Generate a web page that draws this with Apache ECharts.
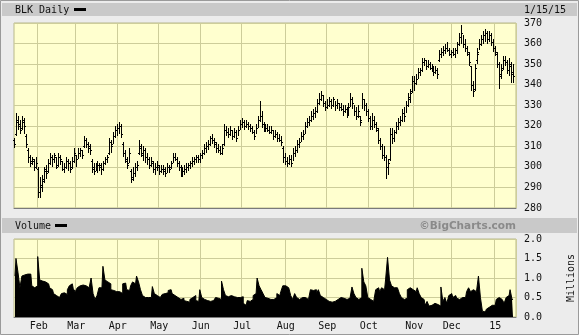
<!DOCTYPE html>
<html><head><meta charset="utf-8">
<script src="https://cdn.jsdelivr.net/npm/echarts@6/dist/echarts.min.js"></script>
<style>html,body{margin:0;padding:0;background:#ececec}#c{width:579px;height:335px}</style>
</head><body><div id="c"></div>
<script>
const title = 'BLK Daily';
const dateLabel = '1/15/15';
const volTitle = 'Volume';
const credit = '\u00a9BigCharts.com';
const volUnit = 'Millions';
const firstDay = [2014, 0, 15];
const lastDay = [2015, 0, 15];
const holidays = ['2014-01-20','2014-02-17','2014-04-18','2014-05-26','2014-07-04','2014-09-01','2014-11-27','2014-12-25','2015-01-01'];
const monthNames = ['Jan','Feb','Mar','Apr','May','Jun','Jul','Aug','Sep','Oct','Nov','Dec'];
const priceMin = 280, priceMax = 370, priceStep = 10;
const volMin = 0, volMax = 2, volStep = 0.5;

const lowP = [
309,315,318,316,318,316,309,302,300,301,
298,299,285,285,288,292,294,297,301,300,
302,299,300,301,298,297,299,298,297,299,
302,300,304,305,304,309,309,307,306,297,
296,298,297,298,296,298,301,302,306,307,
311,314,315,316,314,305,302,299,302,292,
293,295,298,306,305,303,302,301,299,300,
297,296,298,296,297,296,295,297,297,299,
302,303,300,298,295,295,296,297,298,299,
300,301,302,302,302,304,306,307,308,310,
311,309,307,307,306,306,310,315,314,315,
313,314,312,315,318,319,318,319,318,317,
316,313,316,319,322,319,317,317,317,316,
316,313,314,312,312,310,302,301,300,301,
300,303,305,307,309,312,313,316,319,320,
322,323,324,326,330,332,329,327,328,329,
328,329,327,328,327,327,325,326,324,325,
329,328,325,323,324,320,328,327,325,322,
318,318,319,317,311,308,304,303,294,296,
303,311,312,316,318,320,322,322,326,329,
331,336,337,340,343,344,346,349,347,348,
347,346,344,345,343,351,353,354,355,356,
354,353,354,353,355,359,360,358,356,354,
349,337,334,337,350,357,359,360,361,360,
361,359,356,354,348,338,343,347,349,345,
344,341,341];
const highP = [
314,326,325,323,325,324,316,309,306,305,
304,305,300,295,296,300,301,304,307,306,
307,305,307,306,303,302,305,304,303,305,
309,306,309,309,308,315,314,312,311,304,
302,302,303,302,302,303,305,306,314,313,
317,320,321,322,321,312,308,305,309,299,
300,302,303,313,311,310,309,307,305,305,
303,302,303,301,301,301,300,302,301,303,
307,307,305,303,301,300,301,302,302,303,
305,305,306,306,307,308,311,312,313,315,
316,314,312,311,310,311,321,320,319,320,
318,319,318,320,323,324,323,323,322,321,
320,318,321,325,332,327,322,321,321,320,
320,318,318,317,316,315,310,307,305,306,
306,309,310,313,314,317,318,322,324,325,
327,328,329,333,336,337,335,332,333,334,
333,334,332,333,331,331,330,330,329,331,
336,334,330,329,330,325,336,333,331,328,
325,326,325,322,319,314,311,310,306,304,
319,319,318,322,324,325,328,329,332,336,
338,344,344,345,348,348,353,353,352,352,
351,350,349,349,348,357,358,359,360,361,
358,357,358,358,361,365,369,364,362,359,
356,349,342,350,358,362,364,366,367,366,
366,365,362,359,356,351,350,354,354,352,
353,351,350];
const openP = [
313,316,323,321,319,323,315,308,305,302,
303,300,299,288,291,294,299,298,302,305,
304,305,301,305,303,299,300,303,302,300,
303,306,304,307,308,310,313,311,309,303,
300,298,300,301,301,299,302,304,307,312,
311,315,318,319,320,311,307,304,302,298,
295,297,300,307,310,306,308,305,304,301,
302,299,300,300,298,299,299,297,300,300,
302,305,304,302,300,297,298,299,300,301,
302,303,304,305,304,306,307,309,310,311,
314,313,311,309,308,307,311,318,317,316,
318,315,317,314,318,321,322,320,321,320,
319,317,315,319,323,325,321,318,319,318,
317,318,315,316,314,313,309,305,303,302,
304,302,307,308,311,312,315,316,320,322,
323,325,326,327,331,333,335,331,329,330,
332,330,333,330,331,329,328,327,328,326,
329,333,331,327,325,325,323,333,330,327,
324,320,323,321,318,313,310,306,305,300,
304,316,314,317,320,322,323,326,325,330,
333,337,342,341,343,346,347,351,352,349,
350,348,347,346,347,352,355,356,357,358,
357,355,356,355,357,360,363,365,360,358,
355,349,340,338,352,356,360,362,364,365,
362,364,361,358,355,350,345,348,352,351,
347,350,346];
const closeP = [
311,322,320,318,322,320,311,305,303,304,
300,302,288,290,293,298,297,302,305,304,
306,300,305,304,299,300,303,302,299,303,
307,304,307,308,306,313,311,310,308,299,
298,300,301,300,299,302,304,305,312,310,
315,318,319,320,316,307,303,301,307,294,
297,300,301,309,307,308,305,304,301,303,
299,300,301,298,299,298,297,300,299,302,
305,304,302,300,297,298,299,300,301,302,
303,304,305,304,306,307,309,310,311,314,
313,312,309,308,307,309,318,317,316,318,
315,317,314,318,321,322,320,321,320,319,
317,315,319,323,325,321,318,319,318,317,
318,315,316,314,313,312,305,303,302,304,
302,307,308,311,312,315,316,320,322,323,
325,326,327,331,333,335,331,329,330,332,
330,333,330,331,329,328,327,328,326,329,
333,331,327,325,327,322,333,330,327,324,
320,323,321,319,313,310,306,305,300,302,
316,314,317,320,322,323,326,325,330,334,
336,342,341,343,346,347,351,352,349,350,
348,347,346,347,345,355,356,357,358,357,
355,356,355,357,360,363,365,360,358,356,
351,340,337,348,355,360,362,364,365,362,
364,361,358,356,350,344,347,352,351,347,
349,345,344];
const volume = [
1.05,1.5,1.15,0.75,1.05,1.08,1.1,1.08,1.1,0.8,
0.75,0.8,1.55,0.95,0.92,0.9,0.92,0.85,0.75,0.7,
0.6,0.55,0.5,0.55,0.6,0.62,0.58,0.7,0.8,0.85,
0.72,0.65,0.75,0.8,0.82,0.78,0.8,0.75,0.75,1.0,
0.6,0.45,0.55,0.75,0.75,1.3,0.95,0.9,0.85,0.7,
0.68,0.65,0.7,0.65,0.6,0.85,0.87,0.7,0.68,0.8,
0.9,0.85,1.05,0.9,0.7,0.55,0.5,0.5,0.48,0.5,
0.78,0.6,0.55,0.5,0.55,0.58,0.6,0.62,0.68,0.7,
0.6,0.55,0.5,0.55,0.45,0.48,0.42,0.4,0.38,0.45,
0.5,0.55,0.42,0.4,0.7,0.5,0.45,0.42,0.42,0.4,
0.42,0.45,0.5,0.48,0.45,0.92,0.7,0.55,0.52,0.55,
0.5,0.52,0.5,0.55,0.5,0.52,0.35,0.3,0.42,0.4,
0.45,0.55,0.6,1.0,0.8,0.7,0.6,0.5,0.48,0.45,
0.48,0.45,0.5,0.6,0.55,0.65,0.8,0.8,0.75,0.7,
0.55,0.45,0.6,0.5,0.45,0.5,0.48,0.5,0.45,0.5,
0.7,0.68,0.7,0.6,0.7,0.55,0.5,0.45,0.42,0.4,
0.38,0.35,0.4,0.45,0.5,0.5,0.48,0.5,0.45,0.48,
0.45,0.77,0.6,0.5,0.45,0.5,1.25,0.9,0.8,0.5,
0.45,0.4,0.45,0.7,0.75,0.65,0.75,0.7,0.95,1.53,
0.95,0.8,0.75,0.75,0.7,0.6,0.5,0.45,0.48,0.7,
0.75,0.7,0.72,0.65,0.75,0.6,0.5,0.45,0.3,0.4,
0.28,0.3,0.35,0.3,0.32,0.28,0.77,0.4,0.5,0.35,
0.55,0.6,0.5,0.55,0.48,0.45,0.5,0.45,0.5,0.65,
0.75,0.65,0.7,0.65,0.6,1.05,0.5,0.15,0.13,0.2,
0.25,0.3,0.35,0.3,0.45,0.5,0.45,0.5,0.35,0.5,
0.55,0.7,0.45];

// trading-day calendar
const dates = [];
for (let d = new Date(Date.UTC(...firstDay)); d.getTime() <= Date.UTC(...lastDay); d.setUTCDate(d.getUTCDate() + 1)) {
  const wd = d.getUTCDay();
  const s = d.toISOString().slice(0, 10);
  if (wd > 0 && wd < 6 && holidays.indexOf(s) < 0) dates.push(s);
}
const cats = dates.concat(['']);
const isMonthStart = cats.map((s, i) => i > 0 && s && s.slice(5, 7) !== cats[i - 1].slice(5, 7));
const monthLabel = s => s.slice(5, 7) === '01' ? s.slice(2, 4) : monthNames[+s.slice(5, 7) - 1];

const MONO = '"DejaVu Sans Mono", monospace';
const gridCol = '#cdcd9a';
const plotBg = '#ffffcf';

const chart = echarts.init(document.getElementById('c'), null, {renderer: 'canvas'});
const ohlc = dates.map((d, i) => [i, openP[i], highP[i], lowP[i], closeP[i]]);
const volData = dates.map((d, i) => [i, volume[i]]);

chart.setOption({
  animation: false,
  backgroundColor: '#ececec',
  grid: [
    {left: 14, top: 23, width: 502, height: 185, show: true, backgroundColor: plotBg, borderColor: '#b9b98a', borderWidth: 1},
    {left: 14, top: 239, width: 502, height: 78, show: true, backgroundColor: plotBg, borderColor: '#b9b98a', borderWidth: 1}
  ],
  xAxis: [
    {type: 'category', gridIndex: 0, data: cats, boundaryGap: true,
     axisLine: {show: true, lineStyle: {color: '#7a7a7a', width: 1}},
     axisTick: {show: false}, axisLabel: {show: false},
     splitLine: {show: true, interval: (i) => isMonthStart[i], lineStyle: {color: gridCol, width: 1}}},
    {type: 'category', gridIndex: 1, data: cats, boundaryGap: true,
     axisLine: {show: true, lineStyle: {color: '#7a7a7a', width: 1}},
     axisTick: {show: false},
     axisLabel: {show: true, interval: (i) => isMonthStart[i], formatter: v => v ? monthLabel(v) : '',
                 fontFamily: MONO, fontSize: 10, color: '#111', margin: 4},
     splitLine: {show: true, interval: (i) => isMonthStart[i], lineStyle: {color: gridCol, width: 1}}}
  ],
  yAxis: [
    {type: 'value', gridIndex: 0, position: 'right', min: priceMin, max: priceMax, interval: priceStep,
     axisLine: {show: false}, axisTick: {show: false},
     axisLabel: {fontFamily: MONO, fontSize: 10, color: '#111', margin: 8},
     splitLine: {show: true, lineStyle: {color: gridCol, width: 1}}},
    {type: 'value', gridIndex: 1, position: 'right', min: volMin, max: volMax, interval: volStep,
     axisLine: {show: false}, axisTick: {show: false},
     axisLabel: {fontFamily: MONO, fontSize: 10, color: '#111', margin: 8, formatter: v => v.toFixed(1)},
     splitLine: {show: true, lineStyle: {color: gridCol, width: 1}}}
  ],
  series: [
    {type: 'line', xAxisIndex: 1, yAxisIndex: 1, data: volData, step: 'middle', symbol: 'none',
     lineStyle: {color: '#000', width: 1}, areaStyle: {color: '#000', opacity: 1}, z: 3},
    {type: 'custom', xAxisIndex: 0, yAxisIndex: 0, data: ohlc, encode: {x: 0, y: [1, 2, 3, 4]}, z: 4,
     renderItem: function (params, api) {
       const i = api.value(0);
       const pO = api.coord([i, api.value(1)]);
       const pH = api.coord([i, api.value(2)]);
       const pL = api.coord([i, api.value(3)]);
       const pC = api.coord([i, api.value(4)]);
       const x = Math.floor(pH[0]);
       const yH = Math.round(pH[1]), yL = Math.round(pL[1]);
       return {type: 'group', children: [
         {type: 'rect', shape: {x: x, y: yH, width: 1, height: Math.max(1, yL - yH)}, style: {fill: '#000'}},
         {type: 'rect', shape: {x: x - 1, y: Math.round(pO[1]), width: 1, height: 1}, style: {fill: '#000'}},
         {type: 'rect', shape: {x: x + 1, y: Math.round(pC[1]), width: 1, height: 1}, style: {fill: '#000'}}
       ]};
     }}
  ],
  graphic: [
    {type: 'rect', shape: {x: 0.5, y: 0.5, width: 578, height: 334}, style: {fill: 'none', stroke: '#9a9a9a', lineWidth: 1}, z: 10},
    {type: 'rect', shape: {x: 2, y: 3, width: 575, height: 13}, style: {fill: '#c9c9c9'}, z: 1},
    {type: 'text', x: 15, y: 10, style: {text: title, font: '10px ' + MONO, fill: '#111', textVerticalAlign: 'middle'}, z: 11},
    {type: 'rect', shape: {x: 74, y: 8, width: 12, height: 3}, style: {fill: '#000'}, z: 11},
    {type: 'text', x: 524, y: 10, style: {text: dateLabel, font: '10px ' + MONO, fill: '#111', textVerticalAlign: 'middle'}, z: 11},
    {type: 'rect', shape: {x: 2, y: 218, width: 575, height: 15}, style: {fill: '#c9c9c9'}, z: 1},
    {type: 'text', x: 15, y: 226, style: {text: volTitle, font: '10px ' + MONO, fill: '#111', textVerticalAlign: 'middle'}, z: 11},
    {type: 'rect', shape: {x: 55, y: 224, width: 12, height: 3}, style: {fill: '#000'}, z: 11},
    {type: 'text', x: 516, y: 226, style: {text: credit, font: 'bold 10.5px "DejaVu Sans", sans-serif', fill: '#8a8a8a', textAlign: 'right', textVerticalAlign: 'middle'}, z: 11},
    {type: 'text', x: 571, y: 278, rotation: Math.PI / 2, style: {text: volUnit, font: '10px ' + MONO, fill: '#111', textAlign: 'center', textVerticalAlign: 'middle'}, z: 11}
  ]
});
</script>
</body></html>
